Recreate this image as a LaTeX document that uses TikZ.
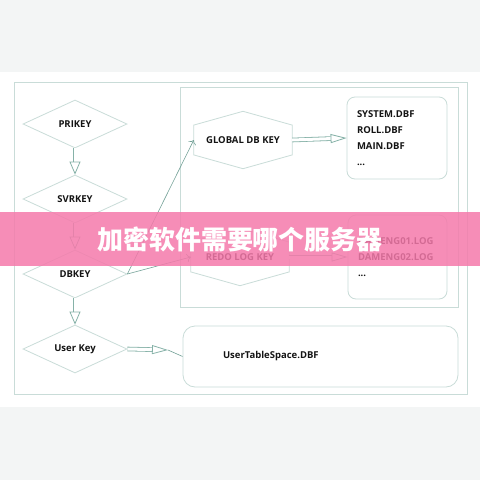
\documentclass[tikz,border=0pt]{standalone}
\usepackage{fontspec}
\setmainfont{Open Sans}
\newfontfamily\cjk{Noto Sans CJK SC}
\usetikzlibrary{shapes.geometric,arrows.meta,calc}
\definecolor{linec}{HTML}{C9DCD8}
\definecolor{arrc}{HTML}{86B2A8}
\definecolor{thinc}{HTML}{74A298}
\definecolor{bannerc}{HTML}{F57AAB}
\definecolor{txt}{HTML}{141414}
\definecolor{bgc}{HTML}{F3F5F5}
\begin{document}
\begin{tikzpicture}[x=1pt,y=-1pt,
  font=\fontsize{9.5}{16}\selectfont\bfseries,
  diam/.style={diamond, aspect=2.2, draw=linec, line width=0.8pt, minimum width=104pt, minimum height=48pt, inner sep=0pt, text=txt},
  hexn/.style={minimum width=98pt, minimum height=57pt, inner sep=0pt, text=txt},
  box/.style={draw=linec, line width=0.8pt, rounded corners=8pt, text=txt, align=left},
  hollow/.style={draw=arrc, line width=0.8pt, double=white, double distance=3pt, -{Triangle[open, length=13pt, width=11pt]}},
  hollowh/.style={draw=arrc, line width=0.8pt, double=white, double distance=3pt, -{Triangle[open, length=16pt, width=9pt]}},
  thinarr/.style={draw=thinc, line width=0.6pt, -{To[length=4pt]}},
  thinl/.style={draw=thinc, line width=0.6pt}
]
\useasboundingbox (0,0) rectangle (480,480);
\fill[bgc] (0,0) rectangle (480,480);
\fill[white] (0,72) rectangle (480,407);
\draw[linec, line width=0.8pt] (14,82) rectangle (467,394);
\draw[linec, line width=0.8pt] (180,87) rectangle (458,307);

\node[diam] (pri) at (75,124) {PRIKEY};
\node[diam] (svr) at (75,199) {SVRKEY};
\node[diam] (db) at (75,274) {DBKEY};
\node[diam] (uk) at (75,349) {User Key};

\node[hexn] (glob) at (243,140) {GLOBAL DB KEY};
\node[hexn] (redo) at (240,257) {REDO LOG KEY};
\foreach \n in {glob,redo}
  \draw[linec, line width=0.8pt] (\n.north) -- ($(\n.north east)!0.24!(\n.south east)$) -- ($(\n.north east)!0.76!(\n.south east)$) -- (\n.south) -- ($(\n.north west)!0.76!(\n.south west)$) -- ($(\n.north west)!0.24!(\n.south west)$) -- cycle;

\node[box, minimum width=100pt, minimum height=82pt, text width=80pt, inner xsep=10pt] (sys) at (397,138) {SYSTEM.DBF\\ROLL.DBF\\MAIN.DBF\\...};
\node[box, minimum width=99pt, minimum height=84pt, text width=79pt, inner xsep=10pt] (dam) at (397.5,257) {DAMENG01.LOG\\DAMENG02.LOG\\...};
\node[box, rounded corners=12pt, minimum width=275pt, minimum height=61pt, text width=195pt, inner xsep=40pt] (uts) at (320.5,356.5) {UserTableSpace.DBF};

\draw[hollow] (pri.south) -- (svr.north);
\draw[hollow] (svr.south) -- (db.north);
\draw[hollow] (db.south) -- (uk.north);
\draw[hollowh] (glob.east) -- (sys.west);
\draw[hollowh] (redo.east) -- (dam.west);
\coordinate (ukm) at (168,350);
\draw[hollowh] (uk.east) -- (ukm);
\draw[thinl] (ukm) -- (uts.west);

\draw[thinarr] (db.east) -- (glob.west);
\draw[thinarr] (db.east) -- (redo.west);

\fill[bannerc, opacity=0.85] (0,212) rectangle (480,266);
\node[text=white, font=\cjk\bfseries\fontsize{26}{26}\selectfont] (title) at (240,239) {加密软件需要哪个服务器};
\end{tikzpicture}
\end{document}
